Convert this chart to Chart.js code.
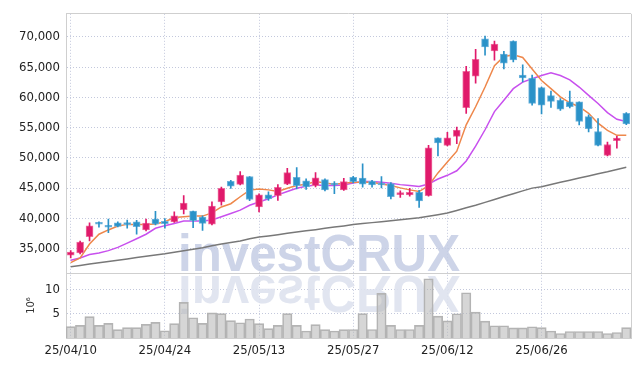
<!DOCTYPE html>
<html>
<head>
<meta charset="utf-8">
<script src="https://cdn.jsdelivr.net/npm/chart.js@4.4.1/dist/chart.umd.min.js"></script>
<style>
html,body{margin:0;padding:0;background:#fff;}
#wrap{width:639px;height:366px;}
</style>
</head>
<body>
<div id="wrap"><canvas id="c" width="639" height="366"></canvas></div>
<script>
// ---- data ----
const dates = [
 '25/04/10','25/04/11','25/04/14','25/04/15','25/04/16','25/04/17','25/04/18','25/04/21','25/04/22','25/04/23',
 '25/04/24','25/04/25','25/04/28','25/04/29','25/04/30','25/05/02','25/05/07','25/05/08','25/05/09','25/05/12',
 '25/05/13','25/05/14','25/05/15','25/05/16','25/05/19','25/05/20','25/05/21','25/05/22','25/05/23','25/05/26',
 '25/05/27','25/05/28','25/05/29','25/05/30','25/06/02','25/06/04','25/06/05','25/06/09','25/06/10','25/06/11',
 '25/06/12','25/06/13','25/06/16','25/06/17','25/06/18','25/06/19','25/06/20','25/06/23','25/06/24','25/06/25',
 '25/06/26','25/06/27','25/06/30','25/07/01','25/07/02','25/07/03','25/07/04','25/07/07','25/07/08','25/07/09'
];
const openP = [33900,34250,36950,39300,38650,39250,39150,39400,38050,39850,
 39500,39400,41400,41200,40200,39000,42700,46100,45600,46900,
 41850,43850,43750,45650,46750,46200,45400,46400,45800,44700,
 46750,46650,46150,45800,45750,43900,43850,44300,43750,53300,
 52050,53550,58300,63500,69700,67700,67150,69300,63700,63200,
 61600,60300,59500,59250,59250,56800,54350,50400,52850,57350];
const highP = [34650,36200,39250,39400,39850,39400,39700,39650,39850,41150,
 39950,41050,43750,41200,40400,42700,45150,46250,47700,46900,
 44050,44350,45550,48250,48400,46500,47550,46500,46050,46600,
 46950,49000,46250,46900,45900,44550,44950,44600,52050,53300,
 54200,55100,65150,67950,70150,69300,67600,69350,65400,63700,
 61700,61050,59800,61050,59250,57100,56500,52600,53550,57500];
const lowP = [33450,34100,36250,38500,37600,38550,38350,37350,37900,38900,
 38350,39300,40700,38450,38000,38900,42150,44950,45500,42900,
 41050,42950,42950,45550,44850,44750,45200,44500,44050,44600,
 45850,45150,45150,45000,43200,43450,43650,41800,43650,50300,
 51950,52350,57350,62350,67000,66150,64700,65850,62550,58700,
 57250,58350,57850,58250,55450,54300,51950,50300,51600,55500];
const closeP = [34400,36050,38750,39000,38500,38650,38950,38600,39200,39000,
 39100,40400,42500,39600,39150,42000,44950,45300,47150,43100,
 43850,43200,45100,47550,45400,45200,46700,44700,45500,46050,
 46050,45650,45500,45500,43550,44100,44300,42850,51650,52450,
 53300,54600,64300,66300,68350,68800,65650,66200,63200,59000,
 58700,59350,58050,58450,56000,54800,52050,52200,53250,55600];
const maShort = [32650,33430,35720,37350,38060,38720,38980,38980,38980,39040,
 39420,40120,40230,40350,40350,40890,41870,42400,43550,44650,
 44850,44690,44420,44970,45400,45620,46060,45830,45620,45780,
 45940,45940,45940,45670,45400,45020,44690,44420,45400,47500,
 49300,51100,55450,58450,61710,65240,66770,67030,66610,64700,
 62800,61440,60080,59100,58450,57360,55730,54540,53720,53720];
const maMid = [33060,33430,33980,34250,34640,35180,35880,36600,37350,38330,
 38770,39140,39530,39530,39530,39700,40230,40770,41330,42140,
 42680,43220,43870,44420,44970,45290,45500,45400,45400,45500,
 45830,46060,46060,45940,45780,45560,45400,45240,45670,46490,
 47100,47850,49480,51930,54640,57640,59530,61440,62530,63070,
 63610,64050,63610,62910,61710,60340,58990,57470,56380,56010];
const maLong = [31980,32190,32420,32630,32850,33060,33270,33480,33700,33910,
 34120,34380,34620,34870,35130,35440,35750,35980,36220,36600,
 36890,37070,37280,37500,37710,37920,38110,38330,38540,38730,
 38950,39110,39270,39430,39580,39740,39910,40070,40330,40580,
 40850,41290,41720,42140,42620,43090,43580,44050,44520,44980,
 45210,45580,45940,46300,46640,47000,47360,47690,48060,48420];
const volume = [2.36,2.62,4.45,2.62,3.03,1.74,2.15,2.15,2.82,3.23,
 1.50,3.00,7.40,4.20,3.05,5.20,5.05,3.60,3.17,3.95,
 3.00,1.95,2.62,5.06,2.62,1.46,2.76,1.74,1.46,1.74,
 1.77,5.06,1.77,9.27,2.62,1.77,1.77,2.62,12.30,4.55,
 3.55,5.03,9.40,5.37,3.50,2.55,2.55,2.10,2.10,2.33,
 2.15,1.46,0.93,1.34,1.34,1.34,1.34,0.93,1.14,2.15];
const priceTicks = [35000,40000,45000,50000,55000,60000,65000,70000];
const volumeTicks = [5,10];
const volumeTitle = '10\u2076';
const watermark = 'investCRUX';

// ---- styles ----
const UP = '#e01a6b', DOWN = '#2b92c8';
const UP_EDGE = '#ee6f9f', DOWN_EDGE = '#6fb4dc';
const isUp = openP.map((o,i) => closeP[i] >= o);
const bodyColor = isUp.map(u => u ? UP : DOWN);
const edgeColor = isUp.map(u => u ? UP_EDGE : DOWN_EDGE);
const tickFont = {family:"'DejaVu Sans Condensed','Liberation Sans Narrow',sans-serif", size:13};
const GRID = '#c3c8dc';

const decor = {
  id:'decor',
  beforeDatasetsDraw(chart){
    const {ctx, chartArea:a, scales} = chart;
    const sep = scales.y.bottom;
    ctx.save();
    ctx.font = "bold 52px 'Liberation Sans', sans-serif";
    const w = ctx.measureText(watermark).width;
    const sx = 282 / w;
    const x0 = 178, base = sep - 2;
    ctx.save();
    ctx.beginPath(); ctx.rect(a.left, a.top, a.right-a.left, sep-a.top); ctx.clip();
    ctx.translate(x0, base); ctx.scale(sx, 1);
    ctx.fillStyle = 'rgba(196,204,228,0.85)';
    ctx.textBaseline = 'alphabetic';
    ctx.fillText(watermark, 0, 0);
    ctx.restore();
    ctx.save();
    ctx.beginPath(); ctx.rect(a.left, sep, a.right-a.left, a.bottom-sep); ctx.clip();
    ctx.translate(x0, sep + 3); ctx.scale(sx, -1);
    ctx.fillStyle = 'rgba(222,226,238,0.9)';
    ctx.fillText(watermark, 0, 0);
    ctx.restore();
    ctx.restore();
  },
  afterDraw(chart){
    const {ctx, chartArea:a, scales} = chart;
    ctx.save();
    ctx.strokeStyle = '#cfcfcf';
    ctx.lineWidth = 1;
    ctx.beginPath();
    const sep = Math.round(scales.y.bottom) + 0.5;
    ctx.moveTo(a.left, sep); ctx.lineTo(a.right, sep);
    ctx.moveTo(a.left, Math.round(a.top)-0.5); ctx.lineTo(a.right, Math.round(a.top)-0.5);
    ctx.moveTo(Math.round(a.right)+0.5, a.top); ctx.lineTo(Math.round(a.right)+0.5, a.bottom);
    ctx.stroke();
    ctx.restore();
  }
};

new Chart(document.getElementById('c'), {
  type:'bar',
  data:{
    labels: dates,
    datasets:[
      {label:'wick', data: lowP.map((l,i)=>[l, highP[i]]), yAxisID:'y', backgroundColor: bodyColor,
       barThickness:1, grouped:false, order:0},
      {label:'body', data: openP.map((o,i)=>[o, closeP[i]]), yAxisID:'y', backgroundColor: bodyColor,
       borderColor: edgeColor, borderWidth:1, borderSkipped:false, barThickness:7, minBarLength:2, grouped:false, order:0},
      {type:'line', label:'MA short', data: maShort, yAxisID:'y', borderColor:'#ee874b', borderWidth:1.5, pointRadius:0, tension:0, order:2},
      {type:'line', label:'MA mid', data: maMid, yAxisID:'y', borderColor:'#c850ee', borderWidth:1.5, pointRadius:0, tension:0, order:2},
      {type:'line', label:'MA long', data: maLong, yAxisID:'y', borderColor:'#787878', borderWidth:1.5, pointRadius:0, tension:0, order:2},
      {label:'volume', data: volume, yAxisID:'yv', backgroundColor:'rgba(180,180,180,0.55)', borderColor:'#b4b4b4',
       borderWidth:1, barPercentage:1, categoryPercentage:1, grouped:false, order:3}
    ]
  },
  options:{
    responsive:false, animation:false,
    layout:{padding:{top:9, right:8, left:0, bottom:0}},
    plugins:{legend:{display:false}, tooltip:{enabled:false}},
    scales:{
      x:{
        type:'category', offset:true,
        grid:{offset:false, color:GRID, drawTicks:false},
        border:{display:true, color:'#cfcfcf', dash:[1,2]},
        ticks:{autoSkip:false, maxRotation:0, minRotation:0, padding:5, font:tickFont, color:'#222'},
        afterBuildTicks(s){ s.ticks = s.ticks.filter(t => t.value % 10 === 0); },
        afterFit(s){ s.height = 28; }
      },
      yv:{
        position:'left', stack:'panes', stackWeight:66,
        min:0, max:13.5,
        grid:{color:GRID, drawTicks:false},
        border:{display:true, color:'#cfcfcf', dash:[1,2]},
        ticks:{padding:6, font:tickFont, color:'#222'},
        title:{display:true, text:volumeTitle, color:'#333', font:{family:"'DejaVu Sans Condensed','DejaVu Sans',sans-serif", size:11}, padding:{top:25, bottom:0}},
        afterBuildTicks(s){ s.ticks = volumeTicks.map(v => ({value:v})); },
        afterFit(s){ s.width = 66; }
      },
      y:{
        position:'left', stack:'panes', stackWeight:263,
        min:30940, max:73830,
        grid:{color:GRID, drawTicks:false},
        border:{display:true, color:'#cfcfcf', dash:[1,2]},
        ticks:{padding:6, font:tickFont, color:'#222', callback:v => Number(v).toLocaleString('en-US')},
        afterBuildTicks(s){ s.ticks = priceTicks.map(v => ({value:v})); },
        afterFit(s){ s.width = 66; }
      }
    }
  },
  plugins:[decor]
});
</script>
</body>
</html>
